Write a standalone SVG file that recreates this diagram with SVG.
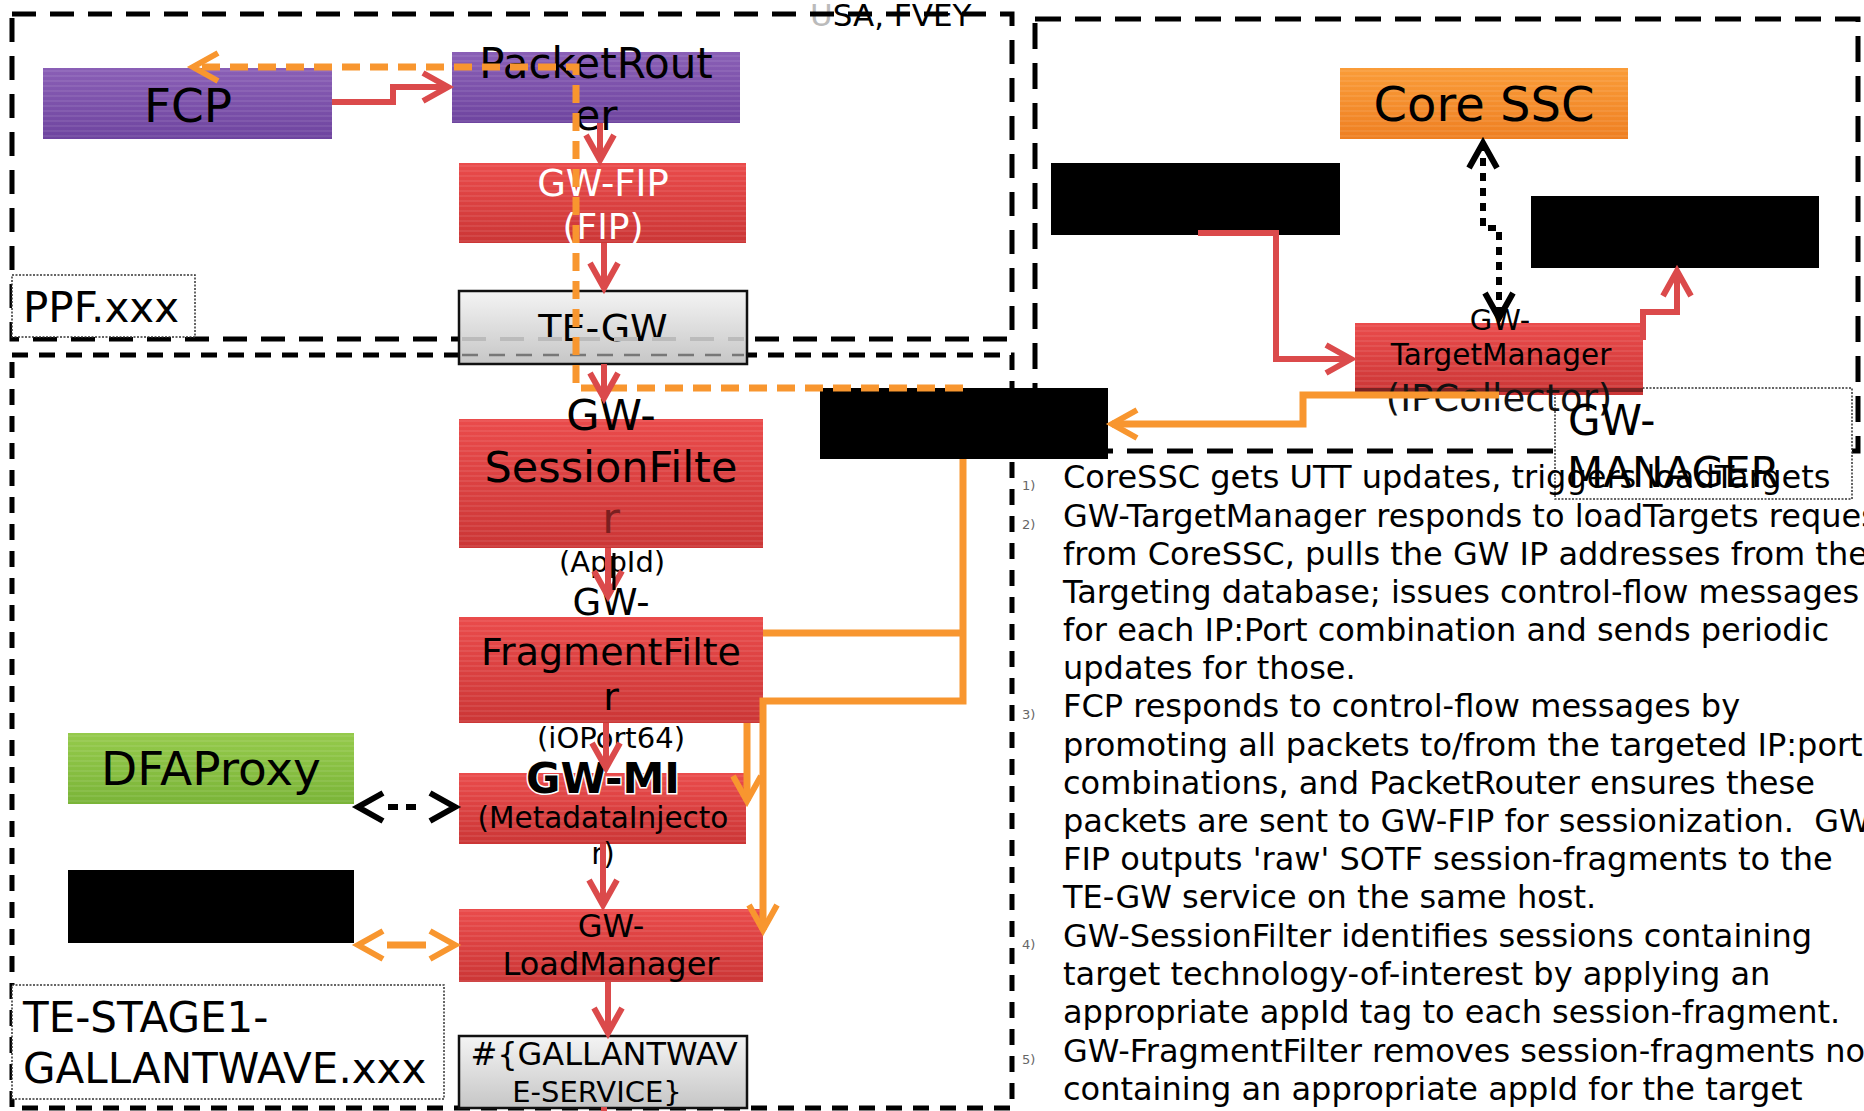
<svg xmlns="http://www.w3.org/2000/svg" width="1864" height="1111" viewBox="0 0 1864 1111">
<defs>
<linearGradient id="gRed" x1="0" y1="0" x2="0" y2="1"><stop offset="0" stop-color="#ea4b4b"/><stop offset="1" stop-color="#cb3636"/></linearGradient>
<linearGradient id="gPurple" x1="0" y1="0" x2="0" y2="1"><stop offset="0" stop-color="#8a5fb6"/><stop offset="1" stop-color="#6e449f"/></linearGradient>
<linearGradient id="gOrange" x1="0" y1="0" x2="0" y2="1"><stop offset="0" stop-color="#fa9c38"/><stop offset="1" stop-color="#ee7f22"/></linearGradient>
<linearGradient id="gGreen" x1="0" y1="0" x2="0" y2="1"><stop offset="0" stop-color="#95ca4b"/><stop offset="1" stop-color="#7ab438"/></linearGradient>
<linearGradient id="gGrey" x1="0" y1="0" x2="0" y2="1"><stop offset="0" stop-color="#f4f4f4"/><stop offset="1" stop-color="#c6c6c6"/></linearGradient>
<pattern id="stripes" patternUnits="userSpaceOnUse" width="20" height="5"><rect x="0" y="0" width="20" height="2" fill="#ffffff" opacity="0.08"/></pattern>
<marker id="aRed" markerUnits="userSpaceOnUse" markerWidth="40" markerHeight="40" refX="30" refY="20" orient="auto-start-reverse"><path d="M5,6 L30,20 L5,34" fill="none" stroke="#db4a4b" stroke-width="6"/></marker>
<marker id="aOrange" markerUnits="userSpaceOnUse" markerWidth="40" markerHeight="40" refX="30" refY="20" orient="auto-start-reverse"><path d="M5,6 L30,20 L5,34" fill="none" stroke="#f8962f" stroke-width="6"/></marker>
<marker id="aBlack" markerUnits="userSpaceOnUse" markerWidth="40" markerHeight="40" refX="30" refY="20" orient="auto-start-reverse"><path d="M5,6 L30,20 L5,34" fill="none" stroke="#000" stroke-width="6"/></marker>
</defs>
<style>
text{font-family:"DejaVu Sans","Liberation Sans",sans-serif;fill:#000}
.cont{fill:none;stroke:#000;stroke-width:5}
.lbl{fill:#fff;stroke:#333;stroke-width:1.5;stroke-dasharray:2 1.5}
.red{fill:url(#gRed)}
.st{fill:url(#stripes)}
.grey{fill:url(#gGrey);stroke:#111;stroke-width:2.5}
.cr{fill:none;stroke:#db4a4b;stroke-width:6;marker-end:url(#aRed)}
.co{fill:none;stroke:#f8962f;stroke-width:7}
.cod{fill:none;stroke:#f8962f;stroke-width:7;stroke-dasharray:18 10}
.cb{fill:none;stroke:#000;stroke-width:6;stroke-dasharray:8 7}
.c{text-anchor:middle}
.body{font-size:32px;white-space:pre}
.num{font-size:13px;fill:#666}
</style>

<g id="title"><text x="810" y="26" font-size="31"><tspan fill="#bbb">U</tspan>SA, FVEY</text></g>

<g id="containers">
<rect class="cont" x="12" y="14" width="1000" height="325" style="stroke-dasharray:24 14"/>
<rect class="cont" x="12" y="355" width="1000" height="753" style="stroke-dasharray:16 11"/>
<rect class="cont" x="1035" y="19" width="823" height="432" style="stroke-dasharray:26 14"/>
</g>

<g id="ppf-label"><rect class="lbl" x="12" y="275" width="183" height="62"/><text x="23" y="322" font-size="42">PPF.xxx</text></g>
<g id="stage-label"><rect class="lbl" x="12" y="985" width="432" height="114"/><text x="23" y="1032" font-size="42">TE-STAGE1-</text><text x="23" y="1083" font-size="42">GALLANTWAVE.xxx</text></g>
<g id="mgr-label"><rect class="lbl" x="1555" y="388" width="297" height="111"/></g>

<g id="fcp"><rect x="43" y="68" width="289" height="71" fill="url(#gPurple)"/><rect class="st" x="43" y="68" width="289" height="71"/><text class="c" x="188" y="122" font-size="47">FCP</text></g>
<g id="packetrouter"><rect x="452" y="52" width="288" height="71" fill="url(#gPurple)"/><rect class="st" x="452" y="52" width="288" height="71"/><text class="c" x="596" y="78" font-size="42">PacketRout</text><text class="c" x="596" y="130" font-size="42">er</text></g>
<g id="gw-fip"><rect class="red" x="459" y="163" width="287" height="80"/><rect class="st" x="459" y="163" width="287" height="80"/><text class="c" x="603" y="196" font-size="37" style="fill:#fff">GW-FIP</text><text class="c" x="603" y="239" font-size="36" style="fill:#fff">(FIP)</text></g>
<g id="te-gw"><rect class="grey" x="459" y="291" width="288" height="73"/><text class="c" x="603" y="341" font-size="38">TE-GW</text><line x1="462" y1="339" x2="744" y2="339" stroke="#bbb" stroke-width="4" stroke-dasharray="24 14"/><line x1="462" y1="355" x2="744" y2="355" stroke="#777" stroke-width="2.5" stroke-dasharray="16 11"/></g>
<g id="gw-sessionfilter"><rect class="red" x="459" y="419" width="304" height="129"/><rect class="st" x="459" y="419" width="304" height="129"/><text class="c" x="611" y="430" font-size="43">GW-</text><text class="c" x="611" y="482" font-size="43">SessionFilte</text><text class="c" x="611" y="533" font-size="43" style="fill:#7a2020">r</text><text class="c" x="612" y="572" font-size="29">(AppId)</text></g>
<g id="gw-fragmentfilter"><rect class="red" x="459" y="617" width="304" height="106"/><rect class="st" x="459" y="617" width="304" height="106"/><text class="c" x="611" y="615" font-size="37">GW-</text><text class="c" x="611" y="665" font-size="38">FragmentFilte</text><text class="c" x="611" y="710" font-size="38">r</text><text class="c" x="611" y="748" font-size="29">(iOPort64)</text></g>
<g id="gw-mi"><rect class="red" x="459" y="773" width="287" height="71"/><rect class="st" x="459" y="773" width="287" height="71"/><text class="c" x="603" y="793" font-size="42" font-weight="bold" style="stroke:#fff;stroke-width:3;paint-order:stroke">GW-MI</text><text class="c" x="603" y="828" font-size="29.5">(MetadataInjecto</text><text class="c" x="603" y="864" font-size="29.5">r)</text></g>
<g id="gw-loadmanager"><rect class="red" x="459" y="909" width="304" height="73"/><rect class="st" x="459" y="909" width="304" height="73"/><text class="c" x="611" y="937" font-size="32">GW-</text><text class="c" x="611" y="975" font-size="32">LoadManager</text></g>
<g id="gallantwave-service"><rect class="grey" x="459" y="1036" width="288" height="72"/><text class="c" x="604" y="1065" font-size="32">#{GALLANTWAV</text><text class="c" x="597" y="1102" font-size="29">E-SERVICE}</text></g>
<g id="dfaproxy"><rect x="68" y="733" width="286" height="71" fill="url(#gGreen)"/><rect class="st" x="68" y="733" width="286" height="71"/><text class="c" x="211" y="785" font-size="47">DFAProxy</text></g>
<g id="redacted-left"><rect x="68" y="870" width="286" height="73" fill="#000"/></g>
<g id="core-ssc"><rect x="1340" y="68" width="288" height="71" fill="url(#gOrange)"/><rect class="st" x="1340" y="68" width="288" height="71"/><text class="c" x="1484" y="121" font-size="48">Core SSC</text></g>
<g id="redacted-top"><rect x="1051" y="163" width="289" height="72" fill="#000"/></g>
<g id="redacted-right"><rect x="1531" y="196" width="288" height="72" fill="#000"/></g>
<g id="gw-targetmanager"><rect class="red" x="1355" y="323" width="288" height="72"/><rect class="st" x="1355" y="323" width="288" height="72"/><line x1="1355" y1="390" x2="1643" y2="390" stroke="#7a2222" stroke-width="4"/><text class="c" x="1500" y="330" font-size="29">GW-</text><text class="c" x="1501" y="365" font-size="29.5">TargetManager</text><text class="c" x="1499" y="411" font-size="37" style="fill:#111">(IPCollector)</text></g>
<g id="redacted-middle"><rect x="820" y="388" width="288" height="71" fill="#000"/></g>

<g id="connectors">
<path class="cod" d="M963,388 H576 V67 H193" style="marker-end:url(#aOrange)"/>
<path class="cr" d="M332,102 H393 V87 H448"/>
<path class="cr" d="M600,123 V160"/>
<path class="cr" d="M604,243 V288"/>
<path class="cr" d="M604,364 V398"/>
<path class="cr" d="M608,548 V596"/>
<line x1="614" y1="553" x2="614" y2="590" stroke="#000" stroke-width="3"/>
<path class="cr" d="M606,723 V768"/>
<path class="cr" d="M603,844 V905"/>
<path class="cr" d="M608,982 V1033"/>
<line x1="604" y1="1107" x2="604" y2="1111" stroke="#db4a4b" stroke-width="6"/>
<path class="cr" d="M1198,233 H1276 V359 H1351"/>
<path class="cr" d="M1643,340 V312 H1677 V271"/>
<path class="co" d="M1499,395 H1303 V424 H1112" style="marker-end:url(#aOrange)"/>
<path class="co" d="M963,459 V701 H763 V930" style="marker-end:url(#aOrange)"/>
<path class="co" d="M763,633 H963"/>
<path class="co" d="M747,723 V801" style="marker-end:url(#aOrange)"/>
<path class="co" d="M358,945 H455" style="stroke-dasharray:0 29 39 60;marker-start:url(#aOrange);marker-end:url(#aOrange)"/>
<path class="cb" d="M358,807 H455" style="stroke-dasharray:0 30 10 8 10 60;marker-start:url(#aBlack);marker-end:url(#aBlack)"/>
<path class="cb" d="M1483,143 V228 H1499 V318" style="marker-start:url(#aBlack);marker-end:url(#aBlack)"/>
</g>

<g id="mgr-text"><text x="1568" y="435" font-size="42">GW-</text><text x="1567" y="487" font-size="42">MANAGER</text></g>

<g id="notes">
<text class="num" x="1022" y="490">1)</text>
<text class="num" x="1022" y="529">2)</text>
<text class="num" x="1022" y="719">3)</text>
<text class="num" x="1022" y="949">4)</text>
<text class="num" x="1022" y="1064">5)</text>
<text class="body" x="1063" y="488">CoreSSC gets UTT updates, triggers loadTargets</text>
<text class="body" x="1063" y="527">GW-TargetManager responds to loadTargets reques</text>
<text class="body" x="1063" y="565">from CoreSSC, pulls the GW IP addresses from the</text>
<text class="body" x="1063" y="603">Targeting database; issues control-flow messages</text>
<text class="body" x="1063" y="641">for each IP:Port combination and sends periodic</text>
<text class="body" x="1063" y="679">updates for those.</text>
<text class="body" x="1063" y="717">FCP responds to control-flow messages by</text>
<text class="body" x="1063" y="756">promoting all packets to/from the targeted IP:port</text>
<text class="body" x="1063" y="794">combinations, and PacketRouter ensures these</text>
<text class="body" x="1063" y="832">packets are sent to GW-FIP for sessionization.  GW</text>
<text class="body" x="1063" y="870">FIP outputs 'raw' SOTF session-fragments to the</text>
<text class="body" x="1063" y="908">TE-GW service on the same host.</text>
<text class="body" x="1063" y="947">GW-SessionFilter identifies sessions containing</text>
<text class="body" x="1063" y="985">target technology-of-interest by applying an</text>
<text class="body" x="1063" y="1023">appropriate appId tag to each session-fragment.</text>
<text class="body" x="1063" y="1062">GW-FragmentFilter removes session-fragments no</text>
<text class="body" x="1063" y="1100">containing an appropriate appId for the target</text>
</g>
</svg>
